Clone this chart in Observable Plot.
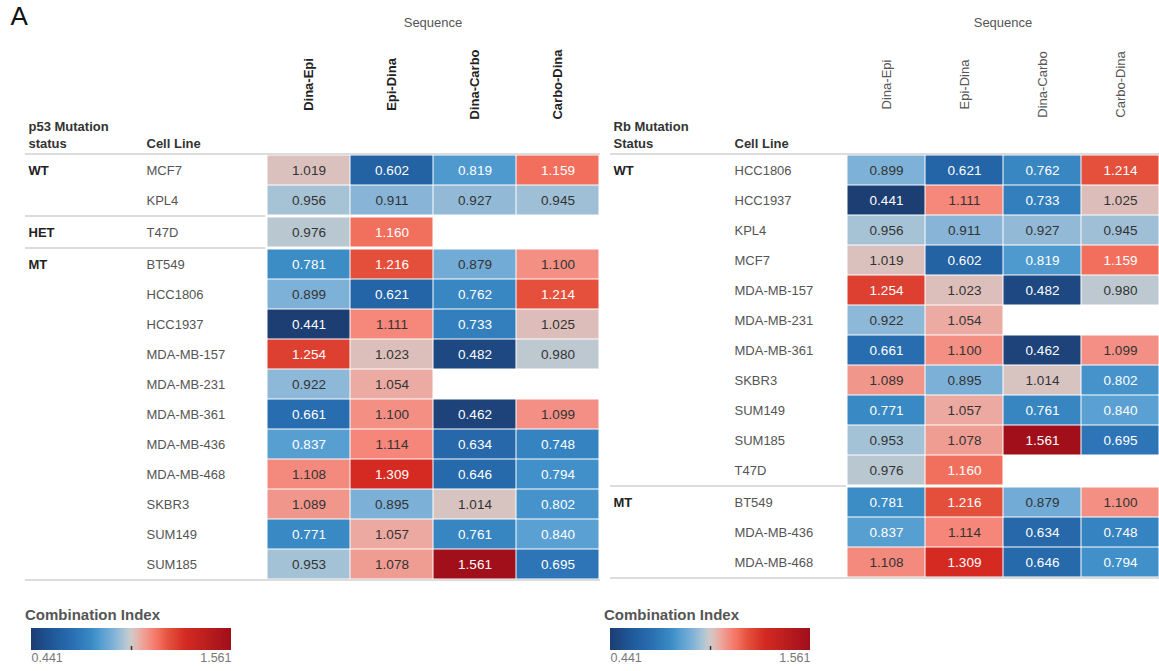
<!DOCTYPE html>
<html><head><meta charset="utf-8">
<script src="https://cdn.jsdelivr.net/npm/d3@7"></script>
<script src="https://cdn.jsdelivr.net/npm/@observablehq/plot@0.6"></script>
<style>
body{margin:0;background:#fff;font-family:"Liberation Sans",Arial,sans-serif;}
#root{position:relative;width:1159px;height:671px;overflow:hidden;}
.panel{position:absolute;top:0;}
.sep{height:2px;}
.legend{position:absolute;top:604px;}
svg{display:block;}
</style></head><body><div id="root"></div>
<script>
// ---- data ----
const sequences = ["Dina-Epi","Epi-Dina","Dina-Carbo","Carbo-Dina"];
const cellLines = ["MCF7","KPL4","T47D","BT549","HCC1806","HCC1937","MDA-MB-157","MDA-MB-231","MDA-MB-361","MDA-MB-436","MDA-MB-468","SKBR3","SUM149","SUM185"];
const dinaEpi   = [1.019,0.956,0.976,0.781,0.899,0.441,1.254,0.922,0.661,0.837,1.108,1.089,0.771,0.953];
const epiDina   = [0.602,0.911,1.160,1.216,0.621,1.111,1.023,1.054,1.100,1.114,1.309,0.895,1.057,1.078];
const dinaCarbo = [0.819,0.927,null,0.879,0.762,0.733,0.482,null,0.462,0.634,0.646,1.014,0.761,1.561];
const carboDina = [1.159,0.945,null,1.100,1.214,1.025,0.980,null,1.099,0.748,0.794,0.802,0.840,0.695];
const p53Status = ["WT","WT","HET","MT","MT","MT","MT","MT","MT","MT","MT","MT","MT","MT"];
const rbStatus  = ["WT","WT","WT","MT","WT","WT","WT","WT","WT","MT","MT","WT","WT","WT"];
const p53Groups = ["WT","HET","MT"];
const rbGroups  = ["WT","MT"];
const ciDomain  = [0.441, 1.561];
const legendTicks = [0.441, 1.001, 1.561];
// colour ramp stops (position in [0,1] -> colour)
const rampStops  = [0, 0.1, 0.2, 0.3, 0.34, 0.41, 0.46, 0.48, 0.5, 0.515, 0.55, 0.6, 0.64, 0.69, 0.775, 1];
const rampColors = ["#1c3e73","#1f5898","#286eb0","#3a8ac5","#4f9bd0","#7fb1d7","#a6c3d6","#bcc8d0","#cfc9ca","#d9c2be","#eca9a1","#f5877a","#f2705e","#e4503c","#d42a22","#a00f1a"];

// ---- build ----
const FONT = '"Liberation Sans", Arial, sans-serif';
const seqValues = [dinaEpi, epiDina, dinaCarbo, carboDina];
const records = cellLines.flatMap((c, i) => sequences.map((s, j) => ({cell: c, seq: s, v: seqValues[j][i]}))).filter(d => d.v != null);
const rampScale = d3.scaleLinear().domain(rampStops).range(rampColors).interpolate(d3.interpolateRgb).clamp(true);
const interp = (t) => rampScale(t);
const colorOpts = {type: "linear", domain: ciDomain, interpolate: interp};
const fmt = d3.format(".3f");
const ROW = 30;
const root = document.getElementById("root");

function isLight(v) { return !(v < 0.86 || v > 1.13); }

function makePanel(cfg) {
  const panel = document.createElement("div");
  panel.className = "panel";
  panel.style.left = cfg.left + "px";
  panel.style.width = cfg.width + "px";
  root.appendChild(panel);

  const headerMarks = [
    Plot.text(sequences, {x: d => d, text: d => d, frameAnchor: "middle", rotate: -90, fontWeight: cfg.headBold ? "bold" : "normal", fill: cfg.headBold ? "#222" : "#555", fontSize: 13}),
    Plot.text(["Sequence"], {text: d => d, frameAnchor: "top", dy: 2, fill: "#555", fontSize: 13}),
    Plot.text([cfg.statusTitle], {text: d => d, frameAnchor: "bottom-left", dx: cfg.groupX - cfg.cellsLeft, dy: -6, textAnchor: "start", lineAnchor: "bottom", fontWeight: "bold", fill: "#333", fontSize: 13, lineHeight: 1.3}),
    Plot.text(["Cell Line"], {text: d => d, frameAnchor: "bottom-left", dx: cfg.cellX - cfg.cellsLeft, dy: -6, textAnchor: "start", lineAnchor: "bottom", fontWeight: "bold", fill: "#333", fontSize: 13})
  ];
  if (cfg.letter) headerMarks.push(Plot.text([cfg.letter], {text: d => d, frameAnchor: "top-left", dx: 10 - cfg.cellsLeft, dy: -9, textAnchor: "start", lineAnchor: "top", fontSize: 26, fill: "#111"}));
  const header = Plot.plot({
    width: cfg.width, height: 153,
    marginLeft: cfg.cellsLeft, marginRight: 0, marginTop: 15, marginBottom: 0,
    x: {type: "point", domain: sequences, padding: 0.5, axis: null},
    style: {fontFamily: FONT, overflow: "visible", background: "transparent"},
    marks: headerMarks
  });
  panel.appendChild(header);

  const sepFull = `linear-gradient(to right, transparent 0 ${cfg.groupX - 3}px, #dcdcdc ${cfg.groupX - 3}px 100%)`;
  const sepInner = `linear-gradient(to right, transparent 0 ${cfg.groupX - 3}px, #dcdcdc ${cfg.groupX - 3}px ${cfg.cellsLeft}px, #fff ${cfg.cellsLeft}px 100%)`;

  cfg.groups.forEach((g, gi) => {
    const sep = document.createElement("div");
    sep.className = "sep";
    sep.style.background = gi === 0 ? sepFull : sepInner;
    panel.appendChild(sep);
    let cells = cellLines.filter((c, i) => cfg.status[i] === g);
    if (cfg.sortCells) cells = cells.slice().sort(d3.ascending);
    const data = records.filter(d => cells.includes(d.cell));
    const chart = Plot.plot({
      width: cfg.width, height: cells.length * ROW,
      marginLeft: cfg.cellsLeft, marginRight: 0, marginTop: 0, marginBottom: 0,
      x: {domain: sequences, padding: 0, axis: null},
      y: {domain: cells, padding: 0, axis: null},
      color: colorOpts,
      style: {fontFamily: FONT, overflow: "visible", background: "transparent"},
      marks: [
        Plot.cell(data, {x: "seq", y: "cell", fill: "v", inset: 0.5}),
        Plot.text(data.filter(d => isLight(d.v)), {x: "seq", y: "cell", text: d => fmt(d.v), fill: "#333", fontSize: 13.5}),
        Plot.text(data.filter(d => !isLight(d.v)), {x: "seq", y: "cell", text: d => fmt(d.v), fill: "#fff", fontSize: 13.5}),
        Plot.text(cells, {y: d => d, text: d => d, frameAnchor: "left", dx: cfg.cellX - cfg.cellsLeft, textAnchor: "start", fill: "#555", fontSize: 13}),
        Plot.text([{g, c: cells[0]}], {y: "c", text: "g", frameAnchor: "left", dx: cfg.groupX - cfg.cellsLeft, textAnchor: "start", fill: "#222", fontWeight: "bold", fontSize: 13})
      ]
    });
    panel.appendChild(chart);
  });
  const last = document.createElement("div");
  last.className = "sep";
  last.style.background = sepFull;
  panel.appendChild(last);

  // legend
  const leg = Plot.legend({
    color: colorOpts,
    label: "Combination Index",
    width: 212, height: 66, marginTop: 24, marginBottom: 20, marginLeft: 6, marginRight: 6,
    tickSize: 0, ticks: legendTicks,
    tickFormat: d => (d === legendTicks[0] || d === legendTicks[2]) ? fmt(d) : "",
    style: {fontFamily: FONT, fontSize: "12.5px", color: "#777", background: "transparent", overflow: "visible"}
  });
  const wrap = document.createElement("div");
  wrap.className = "legend";
  wrap.style.left = (cfg.left + cfg.legendX) + "px";
  wrap.appendChild(leg);
  root.appendChild(wrap);
  const s = d3.select(leg);
  const ticksSel = s.selectAll(".tick");
  const n = ticksSel.size();
  ticksSel.each(function(d, i) {
    const t = d3.select(this);
    if (i === 0) { t.select("text").attr("text-anchor", "start"); t.select("line").remove(); }
    else if (i === n - 1) { t.select("text").attr("text-anchor", "end"); t.select("line").remove(); }
    else { t.select("line").attr("y1", -4).attr("y2", 0).attr("stroke", "#333").attr("stroke-width", 1.5); }
  });
  s.selectAll("text").filter(function() { return this.textContent === "Combination Index"; })
    .attr("x", 0).attr("y", 16).attr("font-size", 15).attr("fill", "#555");
}

makePanel({left: 0, width: 600, cellsLeft: 265, groupX: 28, cellX: 146, statusTitle: "p53 Mutation\nstatus", status: p53Status, groups: p53Groups, sortCells: false, headBold: true, letter: "A", legendX: 25});
makePanel({left: 600, width: 559, cellsLeft: 246, groupX: 13, cellX: 134, statusTitle: "Rb Mutation\nStatus", status: rbStatus, groups: rbGroups, sortCells: true, headBold: false, legendX: 4});
</script></body></html>
